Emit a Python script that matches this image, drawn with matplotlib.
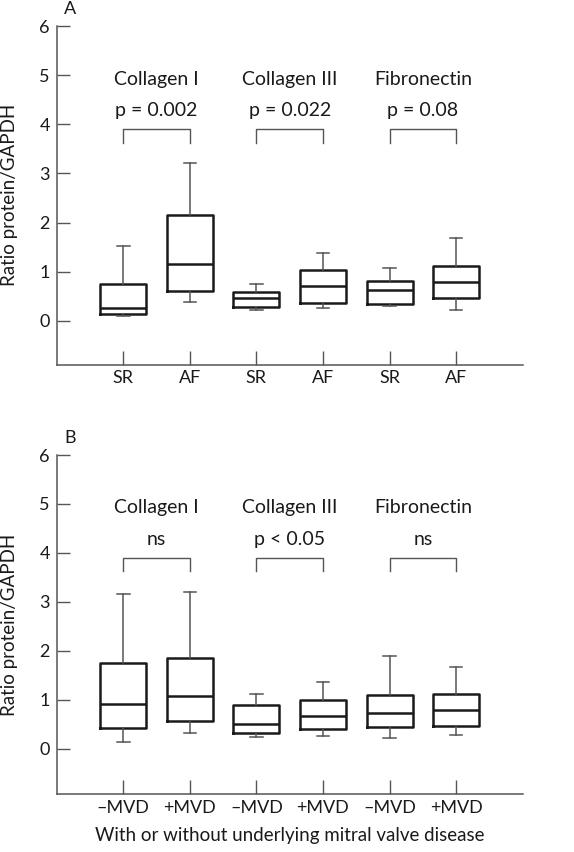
import matplotlib
matplotlib.use("Agg")
from matplotlib import pyplot as plt

plt.rcParams["font.family"] = ["Lato", "DejaVu Sans"]

# Dane
proteins = ["Collagen I", "Collagen III", "Fibronectin"]

# Panel A: SR / AF
labels_a = ["SR", "AF", "SR", "AF", "SR", "AF"]
whislo_a = [0.10, 0.39, 0.22, 0.27, 0.31, 0.22]
q1_a = [0.14, 0.60, 0.28, 0.37, 0.345, 0.47]
med_a = [0.26, 1.16, 0.47, 0.71, 0.62, 0.79]
q3_a = [0.745, 2.15, 0.59, 1.04, 0.80, 1.12]
whishi_a = [1.52, 3.21, 0.74, 1.375, 1.08, 1.69]
pvals_a = ["p = 0.002", "p = 0.022", "p = 0.08"]

# Panel B: -MVD / +MVD
labels_b = ["\u2013MVD", "+MVD", "\u2013MVD", "+MVD", "\u2013MVD", "+MVD"]
whislo_b = [0.14, 0.31, 0.24, 0.26, 0.22, 0.27]
q1_b = [0.42, 0.57, 0.31, 0.39, 0.44, 0.47]
med_b = [0.91, 1.08, 0.51, 0.67, 0.73, 0.78]
q3_b = [1.75, 1.86, 0.89, 1.00, 1.10, 1.11]
whishi_b = [3.16, 3.20, 1.11, 1.35, 1.89, 1.66]
pvals_b = ["ns", "p < 0.05", "ns"]

W, H = 574, 852
fig = plt.figure(figsize=(W / 100, H / 100), dpi=100)

box_col = "#1a1a1a"
line_col = "#555555"


def panel(rect, letter, labels, lo, q1, med, q3, hi, pvals, ybottom):
    ax = fig.add_axes(rect)
    stats = []
    for i in range(len(labels)):
        stats.append(dict(whislo=lo[i], q1=q1[i], med=med[i], q3=q3[i],
                          whishi=hi[i], fliers=[], label=labels[i]))
    ax.bxp(stats, positions=range(1, len(labels) + 1), widths=0.69,
           capwidths=0.19, showfliers=False,
           boxprops=dict(color=box_col, linewidth=1.8),
           medianprops=dict(color=box_col, linewidth=1.8),
           whiskerprops=dict(color=line_col, linewidth=1.1),
           capprops=dict(color=line_col, linewidth=1.1))

    # klamry i opisy istotnosci
    for k in range(3):
        x1, x2 = 2 * k + 1, 2 * k + 2
        ax.plot([x1, x1, x2, x2], [3.62, 3.90, 3.90, 3.62],
                color=line_col, linewidth=1.0)
        ax.text((x1 + x2) / 2, 4.27, pvals[k], ha="center", va="center",
                fontsize=14, color=box_col)
        ax.text((x1 + x2) / 2, 4.92, proteins[k], ha="center", va="center",
                fontsize=14, color=box_col)

    ax.set_xlim(0, 7)
    ax.set_ylim(ybottom, 6)
    ax.set_yticks(range(0, 7))
    ax.set_xticks(range(1, 7))
    ax.set_xticklabels(labels)
    ax.tick_params(axis="both", direction="in", colors=line_col,
                   labelcolor=box_col, labelsize=13, width=1.0)
    ax.tick_params(axis="y", length=9, pad=5)
    ax.tick_params(axis="x", length=10, pad=4)
    for s in ["top", "right"]:
        ax.spines[s].set_visible(False)
    for s in ["left", "bottom"]:
        ax.spines[s].set_color(line_col)
        ax.spines[s].set_linewidth(1.1)
    ax.set_ylabel("Ratio protein/GAPDH", fontsize=13.5, color=box_col)
    ax.yaxis.set_label_coords(-0.101, 0.5)
    ax.yaxis.label.set_va("center")
    fig.text(rect[0] + 13 / W, rect[1] + rect[3] + 17 / H, letter,
             ha="center", va="center", fontsize=13, color=box_col)
    return ax


left = 56.7 / W
width = (522.7 - 56.7) / W

ax_a = panel([left, 1 - 364.5 / H, width, (364.5 - 26) / H], "A", labels_a,
             whislo_a, q1_a, med_a, q3_a, whishi_a, pvals_a, -0.89)
ax_b = panel([left, 1 - 794 / H, width, (794 - 455) / H], "B", labels_b,
             whislo_b, q1_b, med_b, q3_b, whishi_b, pvals_b, -0.93)
ax_b.set_xlabel("With or without underlying mitral valve disease",
                fontsize=13.5, labelpad=8, color=box_col)

fig.savefig("out.png", dpi=100)
